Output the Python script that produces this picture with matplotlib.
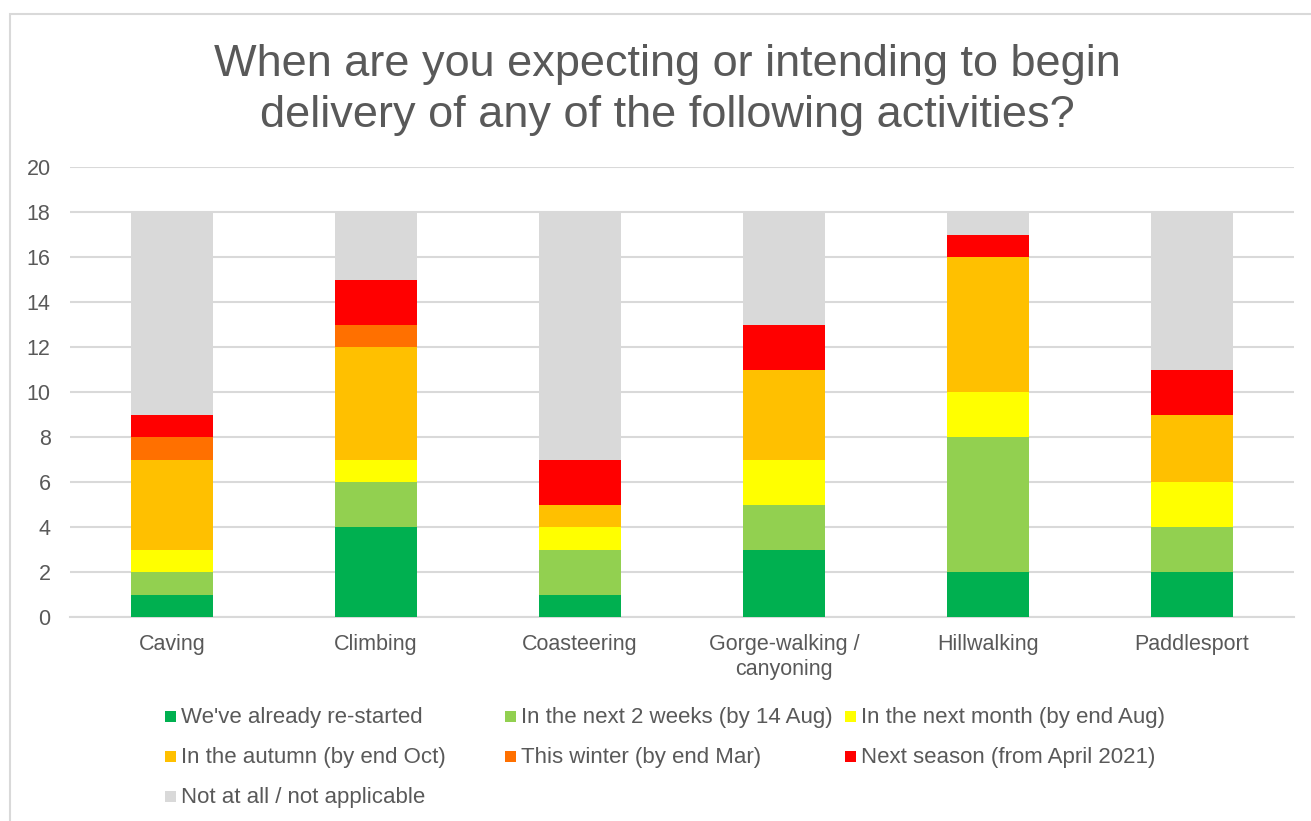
import matplotlib.pyplot as plt
from matplotlib.patches import Rectangle
import numpy as np

plt.rcParams['font.family'] = ['Liberation Sans', 'DejaVu Sans']

categories = ['Caving', 'Climbing', 'Coasteering', 'Gorge-walking /\ncanyoning',
              'Hillwalking', 'Paddlesport']
series_names = ["We've already re-started", 'In the next 2 weeks (by 14 Aug)',
                'In the next month (by end Aug)', 'In the autumn (by end Oct)',
                'This winter (by end Mar)', 'Next season (from April 2021)',
                'Not at all / not applicable']
already = [1, 4, 1, 3, 2, 2]
two_weeks = [1, 2, 2, 2, 6, 2]
next_month = [1, 1, 1, 2, 2, 2]
autumn = [4, 5, 1, 4, 6, 3]
winter = [1, 1, 0, 0, 0, 0]
next_season = [1, 2, 2, 2, 1, 2]
not_at_all = [9, 3, 11, 5, 1, 7]
colors = ['#00b050', '#92d050', '#ffff00', '#ffc000', '#ff7000', '#ff0000', '#d9d9d9']

W, H = 1311, 821
fig = plt.figure(figsize=(W / 100, H / 100), dpi=100)
# chart border
fig.patches.append(Rectangle((10 / W, -0.05), 1.1, (H - 14) / H + 0.05,
                             transform=fig.transFigure, facecolor='none',
                             edgecolor='#d9d9d9', linewidth=1.5, zorder=-1))

ax = fig.add_axes([70 / W, (H - 617) / H, 1224 / W, 450 / H])
ax.set_facecolor('none')
x = np.arange(len(categories))
bottom = np.zeros(len(categories))
for vals, name, c in zip([already, two_weeks, next_month, autumn, winter, next_season, not_at_all],
                         series_names, colors):
    ax.bar(x, vals, width=0.4, bottom=bottom, color=c, label=name, zorder=3)
    bottom += np.array(vals)

ax.set_xlim(-0.5, len(categories) - 0.5)
ax.set_ylim(0, 20)
ax.set_yticks(range(0, 21, 2))
ax.yaxis.grid(True, color='#d9d9d9', linewidth=1.5, zorder=0)
for s in ['top', 'right', 'left']:
    ax.spines[s].set_visible(False)
ax.spines['bottom'].set_color('#d9d9d9')
ax.spines['bottom'].set_linewidth(1.5)
ax.set_xticks(x)
ax.set_xticklabels(categories, fontsize=15.5, color='#595959', linespacing=1.3)
ax.tick_params(axis='both', length=0, labelsize=15.5, labelcolor='#595959')
ax.tick_params(axis='y', pad=14)
ax.tick_params(axis='x', pad=12)

fig.text(667 / W, 1 - 90 / H, 'When are you expecting or intending to begin\ndelivery of any of the following activities?',
         ha='center', va='center', fontsize=32.5, color='#595959', linespacing=1.3)

# legend laid out row-wise like the original
leg_x = [165, 505, 845]
leg_y = [717, 757, 797]
for i, (name, c) in enumerate(zip(series_names, colors)):
    r, col = divmod(i, 3)
    px, py = leg_x[col], leg_y[r]
    fig.patches.append(Rectangle((px / W, 1 - (py + 5) / H), 11 / W, 11 / H,
                                 transform=fig.transFigure, facecolor=c, edgecolor='none'))
    fig.text((px + 16) / W, 1 - py / H, name, ha='left', va='center',
             fontsize=16, color='#595959')

fig.savefig('out.png', dpi=100)
